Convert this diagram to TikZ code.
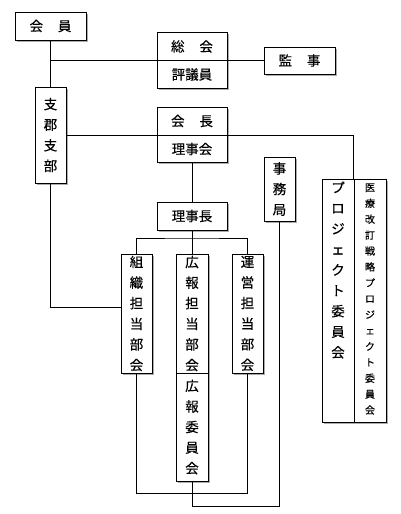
\documentclass[tikz,border=0pt]{standalone}
\usepackage{fontspec}
\newfontfamily\jpfont[FakeBold=0.4]{Noto Sans CJK JP}
\usetikzlibrary{shadows}

\begin{document}
\begin{tikzpicture}[x=1pt,y=-1pt,
  box/.style={draw,fill=white,line width=0.8pt,inner sep=0pt,
    drop shadow={shadow xshift=2pt,shadow yshift=-2pt,opacity=0.65}},
  txt/.style={font=\jpfont\fontsize{13.5}{20.6}\selectfont,align=center,inner sep=0pt},
  smalltxt/.style={font=\jpfont\fontsize{10}{15.9}\selectfont,align=center,inner sep=0pt},
  link/.style={line width=0.6pt}]
  \useasboundingbox[fill=white] (0,0) rectangle (400,514);

  % boxes
  \node[box,txt,minimum width=71pt,minimum height=28pt] (kaiin) at (50.5,26) {会\hspace{1.1em}員};
  \node[box,minimum width=70pt,minimum height=56pt] (sokai) at (192,60) {};
  \node[box,txt,minimum width=71pt,minimum height=27pt] (kanji) at (299.5,60.5) {監\hspace{1.1em}事};
  \node[box,txt,minimum width=31pt,minimum height=96pt] (shibu) at (50.5,135) {支\\郡\\支\\部};
  \node[box,minimum width=70pt,minimum height=55pt] (kaicho) at (192,134.5) {};
  \node[box,txt,minimum width=31pt,minimum height=64pt] (jimu) at (279.5,189) {事\\務\\局};
  \node[box,txt,minimum width=70pt,minimum height=28pt] (rijicho) at (192,216) {理事長};
  \node[box,txt,minimum width=31pt,minimum height=119pt] (soshiki) at (136.5,313.5) {組\\織\\担\\当\\部\\会};
  \node[box,txt,minimum width=32pt,minimum height=119pt] (koho) at (192,313.5) {広\\報\\担\\当\\部\\会};
  \node[box,txt,minimum width=32pt,minimum height=108pt] (kohoi) at (192,427) {広\\報\\委\\員\\会};
  \node[box,txt,minimum width=31pt,minimum height=119pt] (unei) at (247.5,313.5) {運\\営\\担\\当\\部\\会};
  \node[box,minimum width=32pt,minimum height=243pt] (projL) at (338,300.5) {};
  \node[box,minimum width=32pt,minimum height=243pt] (projR) at (370,300.5) {};

  % texts inside the split boxes
  \node[txt] (sokaiT) at (192,46.5) {総\hspace{1.1em}会};
  \node[txt] (hyogi) at (192,74.5) {評議員};
  \node[txt] (kaichoT) at (192,121) {会\hspace{1.1em}長};
  \node[txt] (rijikai) at (192,149) {理事会};
  \node[txt] (projLtxt) at (338,270) {プ\\ロ\\ジ\\ェ\\ク\\ト\\委\\員\\会};
  \node[smalltxt] (projRtxt) at (370,299) {医\\療\\改\\訂\\戦\\略\\プ\\ロ\\ジ\\ェ\\ク\\ト\\委\\員\\会};

  % connectors
  \coordinate (fork) at (192,238);
  \coordinate (lowA) at (0,493);
  \coordinate (lowB) at (0,506);
  \draw[link] (kaiin) -- (shibu);
  \draw[link] (kaiin.south |- kanji.west) -- (kanji.west);
  \draw[link] (shibu.east) -| (projR.north west);
  \draw[link] (kaicho) -- (rijicho);
  \draw[link] (rijicho.south) -- (fork);
  \draw[link] (soshiki.north) |- (fork) -| (unei.north);
  \draw[link] (fork) -- (koho.north);
  \draw[link] (shibu.south) |- ([yshift=6.5pt]soshiki.west);
  \draw[link] (soshiki.south) -- (soshiki.south |- lowA) -| (unei.south);
  \draw[link] (kohoi.south) -- (kohoi.south |- lowB) -| (jimu.south);

\end{tikzpicture}
\end{document}
